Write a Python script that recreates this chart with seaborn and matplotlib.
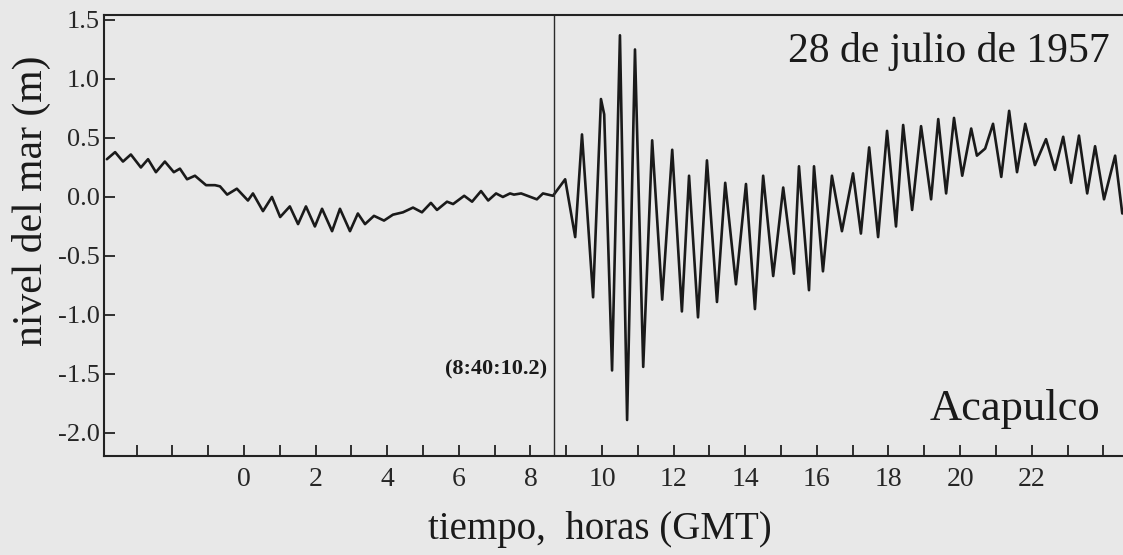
import matplotlib
matplotlib.use("Agg")
import matplotlib.pyplot as plt
import seaborn as sns
import pandas as pd

# Acapulco tide-gauge record, 28 July 1957 (hours GMT, sea level in m)
hours = [
    -3.83, -3.60, -3.38, -3.16, -2.88, -2.68, -2.46, -2.21, -1.96, -1.79,
    -1.59, -1.37, -1.06, -0.81, -0.67, -0.47, -0.20, 0.11, 0.25, 0.53,
    0.78, 1.01, 1.28, 1.51, 1.73, 1.98, 2.18, 2.46, 2.68, 2.96,
    3.18, 3.38, 3.63, 3.91, 4.16, 4.44, 4.72, 4.97, 5.22, 5.39,
    5.67, 5.84, 6.15, 6.37, 6.62, 6.82, 7.04, 7.23, 7.43, 7.54,
    7.74, 8.18, 8.35, 8.63,
    8.97, 9.25, 9.44, 9.75, 9.97, 10.06, 10.28, 10.50, 10.70, 10.92,
    11.15, 11.40, 11.68, 11.96, 12.23, 12.43, 12.68, 12.93, 13.21, 13.44,
    13.74, 14.02, 14.27, 14.50, 14.78, 15.06, 15.36, 15.50, 15.78, 15.92,
    16.17, 16.42, 16.70, 17.01, 17.23, 17.46, 17.71, 17.96, 18.21, 18.41,
    18.66, 18.91, 19.19, 19.39, 19.61, 19.83, 20.06, 20.31, 20.47, 20.70,
    20.92, 21.15, 21.37, 21.59, 21.82, 22.09, 22.40, 22.65, 22.88, 23.10,
    23.32, 23.55, 23.77, 24.02, 24.33, 24.53,
]
level = [
    0.32, 0.38, 0.30, 0.36, 0.25, 0.32, 0.21, 0.30, 0.21, 0.24,
    0.15, 0.18, 0.10, 0.10, 0.09, 0.02, 0.07, -0.03, 0.03, -0.12,
    0.00, -0.17, -0.08, -0.23, -0.08, -0.25, -0.10, -0.29, -0.10, -0.29,
    -0.14, -0.23, -0.16, -0.20, -0.15, -0.13, -0.09, -0.13, -0.05, -0.11,
    -0.04, -0.06, 0.01, -0.04, 0.05, -0.03, 0.03, 0.00, 0.03, 0.02,
    0.03, -0.02, 0.03, 0.01,
    0.15, -0.34, 0.53, -0.85, 0.83, 0.70, -1.47, 1.37, -1.89, 1.25,
    -1.44, 0.48, -0.87, 0.40, -0.97, 0.18, -1.02, 0.31, -0.89, 0.12,
    -0.74, 0.11, -0.95, 0.18, -0.67, 0.08, -0.65, 0.26, -0.79, 0.26,
    -0.63, 0.18, -0.29, 0.20, -0.31, 0.42, -0.34, 0.56, -0.25, 0.61,
    -0.11, 0.60, -0.02, 0.66, 0.03, 0.67, 0.18, 0.58, 0.35, 0.41,
    0.62, 0.17, 0.73, 0.21, 0.62, 0.27, 0.49, 0.23, 0.51, 0.12,
    0.52, 0.03, 0.43, -0.02, 0.35, -0.14,
]

major_hours = [0, 2, 4, 6, 8, 10, 12, 14, 16, 18, 20, 22]
minor_hours = [-3, -2, -1, 1, 3, 5, 7, 9, 11, 13, 15, 17, 19, 21, 23, 24]
level_ticks = [-2.0, -1.5, -1.0, -0.5, 0.0, 0.5, 1.0, 1.5]
level_tick_labels = ["-2.0", "-1.5", "-1.0", "-0.5", "0.0", "0.5", "1.0", "1.5"]

quake_time = 8 + 40 / 60 + 10.2 / 3600   # 8:40:10.2 GMT
quake_label = "(8:40:10.2)"
date_label = "28 de julio de 1957"
station_label = "Acapulco"

sns.set_theme(style="ticks")
plt.rcParams["font.family"] = ["Liberation Serif", "DejaVu Serif"]
plt.rcParams["axes.unicode_minus"] = False

paper = "#e8e8e8"
ink = "#1a1a1a"
fig = plt.figure(figsize=(11.23, 5.55), dpi=100, facecolor=paper)
ax = fig.add_axes([104 / 1123, 99 / 555, 1019 / 1123, 441 / 555])
ax.set_facecolor(paper)

df = pd.DataFrame({"hora": hours, "nivel": level})
sns.lineplot(data=df, x="hora", y="nivel", ax=ax, color=ink,
             linewidth=1.9, estimator=None, sort=False)
for line in ax.lines:
    line.set_solid_joinstyle("round")

ax.axvline(quake_time, color="#2a2a2a", linewidth=1.0)

ax.set_xlim(-3.91, 24.55)
ax.set_ylim(-2.195, 1.542)

ax.set_xticks(major_hours)
ax.set_xticklabels([str(h) for h in major_hours])
ax.set_xticks(minor_hours, minor=True)
ax.set_yticks(level_ticks)
ax.set_yticklabels(level_tick_labels)

ax.tick_params(axis="x", which="major", direction="in", length=8, width=1.3,
               color="#222222", labelsize=20, pad=8, bottom=True)
ax.tick_params(axis="x", which="minor", direction="in", length=8, width=1.3,
               color="#222222", bottom=True)
ax.tick_params(axis="y", which="major", direction="in", length=8, width=1.3,
               color="#222222", labelsize=19, pad=3, left=True)

for side in ("left", "top", "bottom"):
    ax.spines[side].set_linewidth(1.5)
    ax.spines[side].set_color("#222222")
ax.spines["right"].set_visible(False)

ax.set_xlabel("tiempo,  horas (GMT)", fontsize=28, color=ink)
ax.xaxis.set_label_coords(0.487, -0.125)
ax.set_ylabel("nivel del mar (m)", fontsize=30, color=ink)
ax.yaxis.set_label_coords(-0.052, 0.578)


# figure-pixel placement helper (origin at top-left)
def px(x, y):
    return fig.transFigure.transform((x / 1123, 1 - y / 555))


xx, yy = px(1110, 62)
ax.text(xx, yy, date_label, transform=None, fontsize=30, ha="right",
        va="baseline", color=ink)
xx, yy = px(1100, 420)
ax.text(xx, yy, station_label, transform=None, fontsize=32, ha="right",
        va="baseline", color=ink)
xx, yy = px(547, 374)
ax.text(xx, yy, quake_label, transform=None, fontsize=16, fontweight="bold",
        ha="right", va="baseline", color=ink)

fig.savefig("out.png", dpi=100, facecolor=paper)
